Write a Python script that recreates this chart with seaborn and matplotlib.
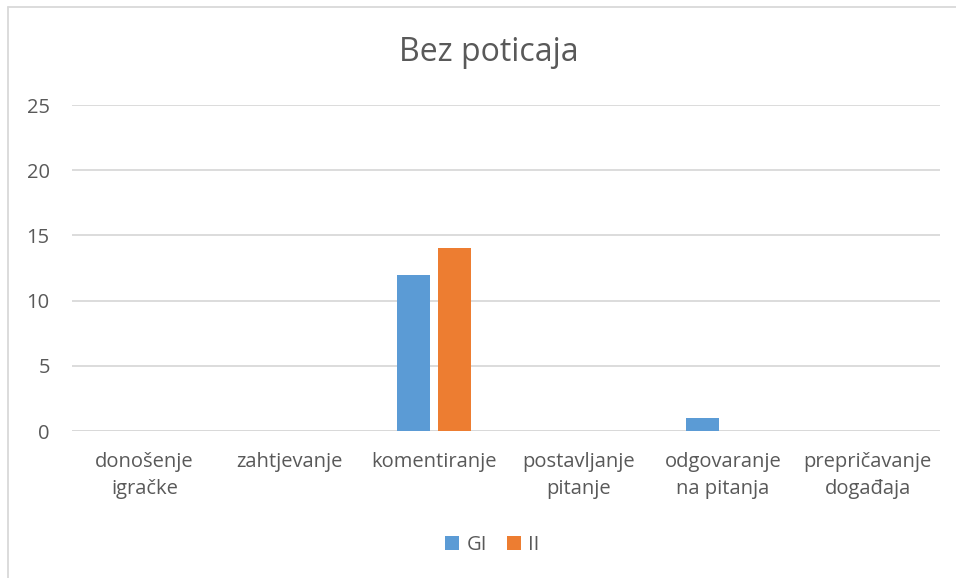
import matplotlib
matplotlib.use("Agg")
import matplotlib.pyplot as plt
from matplotlib.lines import Line2D
from matplotlib.patches import Patch
import pandas as pd
import seaborn as sns

# data
categories = ['donošenje\nigračke', 'zahtjevanje', 'komentiranje',
              'postavljanje\npitanje', 'odgovaranje\nna pitanja', 'prepričavanje\ndogađaja']
gi_values = [0, 0, 12, 0, 1, 0]
ii_values = [0, 0, 14, 0, 0, 0]
series = ['GI', 'II']
colors = ['#5B9BD5', '#ED7D31']

df = pd.DataFrame({
    'kategorija': categories * 2,
    'vrijednost': gi_values + ii_values,
    'grupa': ['GI'] * len(categories) + ['II'] * len(categories),
})

sns.set_theme(style="white")
plt.rcParams['font.family'] = ['Open Sans', 'DejaVu Sans']
text_color = '#595959'

fig = plt.figure(figsize=(9.56, 5.78), dpi=100)
ax = fig.add_axes([0.0753, 0.2543, 0.908, 0.564])

sns.barplot(data=df, x='kategorija', y='vrijednost', hue='grupa',
            hue_order=series, palette=colors, saturation=1, width=0.57, gap=0.2,
            linewidth=0, ax=ax, legend=False)

ax.set_ylim(0, 25)
ax.set_yticks(range(0, 26, 5))
ax.set_xlim(-0.5, len(categories) - 0.5)
ax.yaxis.grid(True, color='#D9D9D9', linewidth=1.3)
ax.set_axisbelow(True)
for s in ax.spines.values():
    s.set_visible(False)
ax.axhline(0, color='#D9D9D9', linewidth=1.3, zorder=0.5)
ax.set_xlabel('')
ax.set_ylabel('')
ax.tick_params(axis='y', length=0, pad=16, labelsize=14.5, labelcolor=text_color)
ax.tick_params(axis='x', length=0, pad=15, labelsize=14.5, labelcolor=text_color)
for lbl in ax.get_xticklabels():
    lbl.set_linespacing(1.5)

fig.text(0.511, 0.91, 'Bez poticaja', ha='center', va='center',
         fontsize=23, color=text_color)

handles = [Patch(facecolor=c, edgecolor='none') for c in colors]
fig.legend(handles, series, loc='center', bbox_to_anchor=(0.515, 0.057),
           ncol=2, frameon=False, fontsize=14.5, labelcolor=text_color,
           handlelength=0.7, handleheight=0.7, handletextpad=0.35, columnspacing=1.0)

# chart area border (left and top edges visible)
fig.add_artist(Line2D([8 / 956, 8 / 956], [0, 1 - 7 / 578], color='#D9D9D9',
                      linewidth=1.3, transform=fig.transFigure))
fig.add_artist(Line2D([8 / 956, 1], [1 - 7 / 578, 1 - 7 / 578], color='#D9D9D9',
                      linewidth=1.3, transform=fig.transFigure))

fig.savefig('out.png', dpi=100)
